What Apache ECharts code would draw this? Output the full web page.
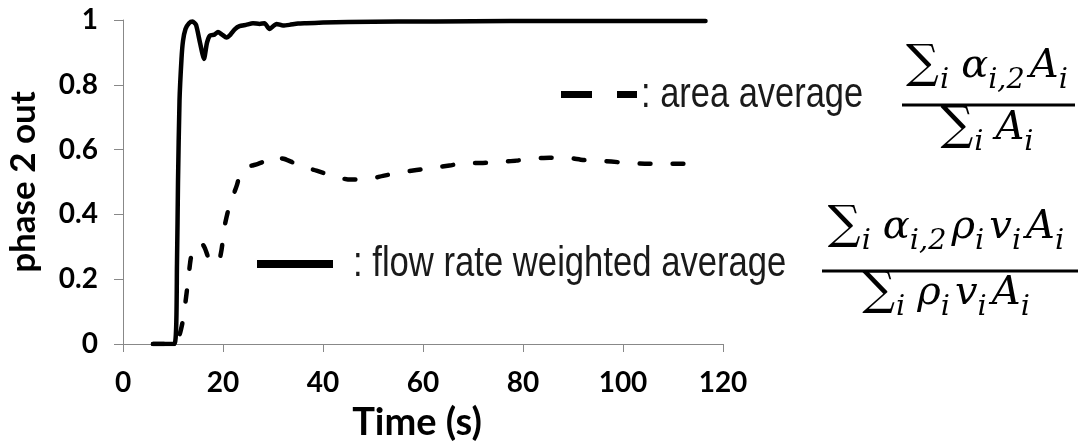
<!DOCTYPE html>
<html>
<head>
<meta charset="utf-8">
<script src="https://cdn.jsdelivr.net/npm/echarts@6/dist/echarts.min.js"></script>
<style>
  html, body { margin: 0; padding: 0; background: #fff; }
  #chart { width: 1086px; height: 441px; }
</style>
</head>
<body>
<div id="chart"></div>
<script>
// Phase-2 volume fraction at the outlet over time
const xTicks = [0, 20, 40, 60, 80, 100, 120];
const yTicks = [0, 0.2, 0.4, 0.6, 0.8, 1];

// flow rate weighted average: [time (s), phase 2 fraction]
const flowWeighted = [
  [6, 0], [10.3, 0], [10.8, 0.25], [11, 0.5], [11.3, 0.75], [11.7, 0.88],
  [12, 0.935], [12.5, 0.972], [13.2, 0.99], [13.9, 0.995], [14.6, 0.985],
  [15.4, 0.93], [16.2, 0.88], [16.8, 0.93], [17.4, 0.952], [18.3, 0.955],
  [19.0, 0.963], [19.8, 0.955], [20.7, 0.946], [21.5, 0.955], [22.4, 0.972],
  [23.3, 0.981], [24.6, 0.985], [26, 0.99], [27.3, 0.988], [28.3, 0.99],
  [29.3, 0.972], [30.2, 0.983], [30.7, 0.988], [32, 0.983], [33.3, 0.985],
  [35, 0.989], [36.7, 0.99], [40, 0.992], [45, 0.994], [55, 0.995],
  [70, 0.996], [85, 0.997], [100, 0.997], [116.5, 0.997]
];

// area average: [time (s), phase 2 fraction]
const areaAverage = [
  [6, 0], [10.3, 0], [11.3, 0.028], [12, 0.074], [12.8, 0.167], [13.5, 0.259],
  [13.9, 0.285], [14.8, 0.305], [15.7, 0.311], [16.4, 0.295], [17, 0.27],
  [18, 0.252], [19, 0.249], [19.7, 0.29], [20.3, 0.362], [21, 0.41],
  [21.7, 0.444], [22.8, 0.491], [23.3, 0.52], [24, 0.537], [25, 0.547],
  [27, 0.556], [28.5, 0.565], [30, 0.58], [31, 0.575], [32.3, 0.571],
  [34, 0.56], [36, 0.547], [38.7, 0.535], [42, 0.519], [45, 0.508],
  [48.7, 0.508], [52, 0.519], [55.3, 0.529], [58.7, 0.537], [62, 0.544],
  [65.3, 0.551], [68.7, 0.559], [72, 0.559], [75.3, 0.562], [78.7, 0.566],
  [82, 0.572], [85.3, 0.575], [88.7, 0.575], [92, 0.568], [95.3, 0.566],
  [100, 0.56], [105, 0.556], [110, 0.556], [116.5, 0.557]
];

const legendAreaText = ': area average';
const legendFlowText = ': flow rate weighted average';

const AXIS_FONT = 'Lato, "Open Sans", sans-serif';
const NARROW_FONT = '"Liberation Sans", Arial, sans-serif';
const MATH_FONT = '"DejaVu Serif", "Liberation Serif", serif';

// text measurement for laying out the formulas
const measureCtx = document.createElement('canvas').getContext('2d');
function textWidth(str, font) {
  measureCtx.font = font;
  return measureCtx.measureText(str).width;
}

// Lay out one row of a formula: each part is a base symbol with an optional subscript.
function formulaRow(parts, cx, baseline, size) {
  const items = [];
  let x = 0;
  parts.forEach(p => {
    const isSum = p.b === '\u2211';
    const bSize = isSum ? size * 1.15 : size;
    const bFont = (isSum ? 'normal ' : 'italic ') + bSize + 'px ' + MATH_FONT;
    const bw = textWidth(p.b, bFont);
    items.push({ text: p.b, font: bFont, x: x, y: baseline - 0.48 * bSize + (isSum ? 0.03 * size : 0) });
    x += bw + (isSum ? 1 : 0);
    if (p.s) {
      const sSize = size * 0.72;
      const sFont = 'italic ' + sSize + 'px ' + MATH_FONT;
      items.push({ text: p.s, font: sFont, x: x, y: baseline + 0.2 * size - 0.48 * sSize });
      x += textWidth(p.s, sFont);
    }
    x += p.gap == null ? 3 : p.gap;
  });
  const offset = cx - x / 2;
  return items.map(it => ({
    type: 'text',
    x: it.x + offset,
    y: it.y,
    silent: true,
    style: { text: it.text, font: it.font, fill: '#000', verticalAlign: 'middle', align: 'left' }
  }));
}

function fraction(num, den, cx, lineY, x0, x1, numBase, denBase, size) {
  return [].concat(
    formulaRow(num, cx, numBase, size),
    formulaRow(den, cx, denBase, size),
    [{ type: 'line', silent: true, shape: { x1: x0, y1: lineY, x2: x1, y2: lineY },
       style: { stroke: '#000', lineWidth: 3.2 } }]
  );
}

const S = '\u2211';
const areaNum = [{ b: S, s: 'i', gap: 12 }, { b: '\u03b1', s: 'i,2', gap: 5 }, { b: 'A', s: 'i', gap: 0 }];
const areaDen = [{ b: S, s: 'i', gap: 12 }, { b: 'A', s: 'i', gap: 0 }];
const flowNum = [{ b: S, s: 'i', gap: 12 }, { b: '\u03b1', s: 'i,2', gap: 5 }, { b: '\u03c1', s: 'i', gap: 5 }, { b: 'v', s: 'i', gap: 5 }, { b: 'A', s: 'i', gap: 0 }];
const flowDen = [{ b: S, s: 'i', gap: 12 }, { b: '\u03c1', s: 'i', gap: 5 }, { b: 'v', s: 'i', gap: 5 }, { b: 'A', s: 'i', gap: 0 }];

const graphics = [].concat(
  [
    // legend: dashed sample
    { type: 'line', silent: true, shape: { x1: 561, y1: 94.5, x2: 592, y2: 94.5 }, style: { stroke: '#000', lineWidth: 7 } },
    { type: 'line', silent: true, shape: { x1: 617, y1: 94.5, x2: 637, y2: 94.5 }, style: { stroke: '#000', lineWidth: 7 } },
    { type: 'text', silent: true, x: 641, y: 95, scaleX: 0.82,
      style: { text: legendAreaText, font: '42px ' + NARROW_FONT, fill: '#1a1a1a', verticalAlign: 'middle' } },
    // legend: solid sample
    { type: 'line', silent: true, shape: { x1: 257, y1: 264, x2: 333, y2: 264 }, style: { stroke: '#000', lineWidth: 8 } },
    { type: 'text', silent: true, x: 353, y: 264, scaleX: 0.825,
      style: { text: legendFlowText, font: '42px ' + NARROW_FONT, fill: '#1a1a1a', verticalAlign: 'middle' } }
  ],
  fraction(areaNum, areaDen, 987, 105, 902, 1075, 86, 148, 40),
  fraction(flowNum, flowDen, 946, 271, 822, 1078, 247, 313, 40)
);

const chart = echarts.init(document.getElementById('chart'), null, { renderer: 'canvas' });
chart.setOption({
  animation: false,
  backgroundColor: '#fff',
  grid: { left: 123, right: 363, top: 20, bottom: 97, containLabel: false, outerBoundsMode: 'none' },
  xAxis: {
    type: 'value',
    min: xTicks[0], max: xTicks[xTicks.length - 1], interval: 20,
    name: 'Time (s)', nameLocation: 'middle', nameGap: 60,
    nameTextStyle: { fontFamily: AXIS_FONT, fontWeight: 'bold', fontSize: 38, color: '#000', padding: [0, 12, 0, 0] },
    axisLine: { onZero: false, lineStyle: { color: '#888', width: 1 } },
    axisTick: { show: true, inside: false, length: 8, lineStyle: { color: '#888' } },
    axisLabel: { margin: 25, fontFamily: AXIS_FONT, fontWeight: 'bold', fontSize: 28, color: '#000' },
    splitLine: { show: false }
  },
  yAxis: {
    type: 'value',
    min: yTicks[0], max: yTicks[yTicks.length - 1], interval: 0.2,
    name: 'phase 2 out', nameLocation: 'middle', nameGap: 82, nameRotate: 90,
    nameTextStyle: { fontFamily: AXIS_FONT, fontWeight: 'bold', fontSize: 35, color: '#000' },
    axisLine: { show: true, lineStyle: { color: '#888', width: 1 } },
    axisTick: { show: true, inside: false, length: 9, lineStyle: { color: '#888' } },
    axisLabel: { margin: 25, fontFamily: AXIS_FONT, fontWeight: 'bold', fontSize: 28, color: '#000',
      formatter: v => String(Math.round(v * 10) / 10) },
    splitLine: { show: false }
  },
  series: [
    {
      name: 'flow rate weighted average', type: 'line', data: flowWeighted,
      showSymbol: false, smooth: 0.2,
      lineStyle: { color: '#000', width: 4.5, cap: 'round', join: 'round' }
    },
    {
      name: 'area average', type: 'line', data: areaAverage,
      showSymbol: false, smooth: 0.2,
      lineStyle: { color: '#000', width: 4.5, type: [11, 22], cap: 'round', join: 'round' }
    }
  ],
  graphic: graphics
});
</script>
</body>
</html>
